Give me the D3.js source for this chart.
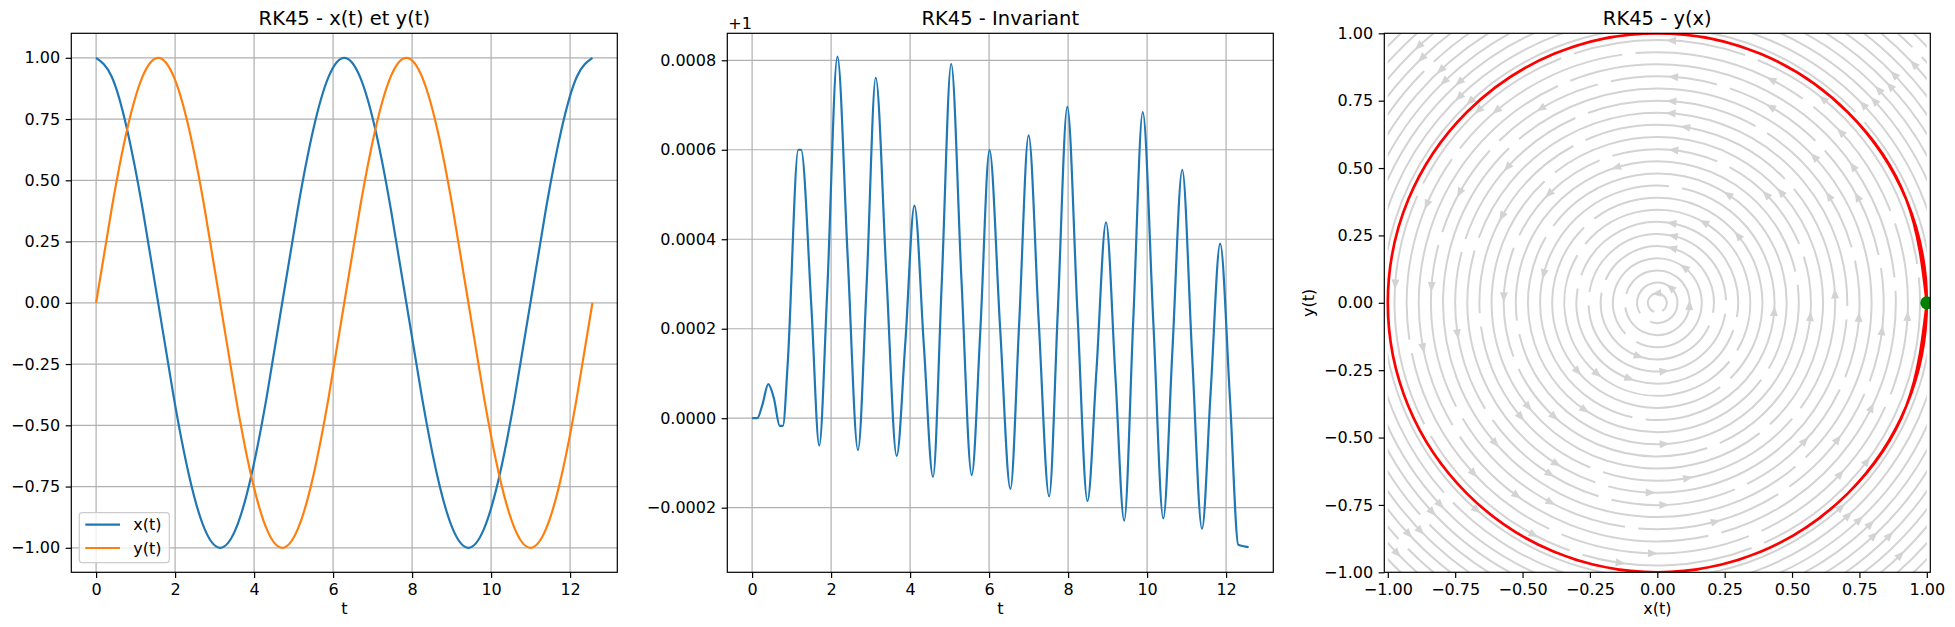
<!DOCTYPE html>
<html>
<head>
<meta charset="utf-8">
<script src="https://cdn.jsdelivr.net/npm/d3@7"></script>
<style>
  body { margin: 0; background: #fff; }
  svg text { font-family: "DejaVu Sans", sans-serif; }
</style>
</head>
<body>
<svg id="fig" width="1955" height="627"></svg>
<script>
// ---- data ----
const tSamples = [0, 0.393, 0.785, 1.178, 1.571, 1.963, 2.356, 2.749, 3.142, 3.534, 3.927, 4.320,
  4.712, 5.105, 5.498, 5.890, 6.283, 6.676, 7.069, 7.461, 7.854, 8.247, 8.639, 9.032, 9.425,
  9.817, 10.210, 10.603, 10.996, 11.388, 11.781, 12.174, 12.566];
const xSeries = [1.000, 0.924, 0.707, 0.383, 0.000, -0.383, -0.707, -0.924, -1.000, -0.924, -0.707,
  -0.383, 0.000, 0.383, 0.707, 0.924, 1.000, 0.924, 0.707, 0.383, 0.000, -0.383, -0.707, -0.924,
  -1.000, -0.924, -0.707, -0.383, 0.000, 0.383, 0.707, 0.924, 1.000];
const ySeries = [0.000, 0.383, 0.707, 0.924, 1.000, 0.924, 0.707, 0.383, 0.000, -0.383, -0.707,
  -0.924, -1.000, -0.924, -0.707, -0.383, 0.000, 0.383, 0.707, 0.924, 1.000, 0.924, 0.707, 0.383,
  0.000, -0.383, -0.707, -0.924, -1.000, -0.924, -0.707, -0.383, 0.000];

// invariant x^2 + y^2, shown as offset from 1
const invT = [0, 0.13, 0.26, 0.41, 0.55, 0.70, 0.78, 0.90, 1.17, 1.24, 1.50, 1.70, 1.90, 2.16,
  2.42, 2.68, 2.90, 3.13, 3.40, 3.66, 3.88, 4.11, 4.35, 4.58, 4.80, 5.04, 5.30, 5.56, 5.78,
  6.01, 6.28, 6.54, 6.76, 7.00, 7.26, 7.52, 7.74, 7.98, 8.24, 8.49, 8.72, 8.96, 9.20, 9.42,
  9.65, 9.89, 10.16, 10.41, 10.64, 10.89, 11.14, 11.39, 11.61, 11.85, 12.10, 12.31, 12.57];
const invDev = [0, 0, 0.000030, 0.000076, 0.000045, -0.000017, -0.000017, 0.000120, 0.000600,
  0.000600, 0.000250, -0.000061, 0.000280, 0.000808, 0.000360, -0.000071, 0.000300, 0.000761,
  0.000320, -0.000084, 0.000170, 0.000475, 0.000160, -0.000131, 0.000300, 0.000792, 0.000310,
  -0.000127, 0.000200, 0.000599, 0.000200, -0.000158, 0.000210, 0.000632, 0.000210, -0.000175,
  0.000240, 0.000696, 0.000230, -0.000185, 0.000110, 0.000438, 0.000090, -0.000229, 0.000220,
  0.000684, 0.000210, -0.000224, 0.000150, 0.000555, 0.000140, -0.000247, 0.000060, 0.000390,
  0.000040, -0.000283, -0.000288];

// streamlines of the field (concentric rings) and their arrow heads [radius, angle deg]
const streamRadii = [0.035, 0.075, 0.12, 0.165, 0.21, 0.255, 0.30, 0.345, 0.39, 0.435, 0.48, 0.525,
  0.57, 0.615, 0.66, 0.705, 0.75, 0.795, 0.84, 0.885, 0.93, 0.975, 1.02, 1.06, 1.10, 1.14, 1.18,
  1.22, 1.26, 1.30, 1.34, 1.38];
const streamArrows = [
  [0.035, 96], [0.075, 50], [0.12, 356], [0.165, 53],
  [0.21, 75], [0.21, 251], [0.255, 77], [0.255, 276], [0.30, 80], [0.30, 250],
  [0.345, 60], [0.345, 230], [0.39, 40], [0.39, 221], [0.435, 166], [0.435, 356],
  [0.48, 57], [0.48, 236], [0.525, 107], [0.525, 273],
  [0.57, 45], [0.57, 84], [0.57, 135], [0.57, 178], [0.57, 228], [0.57, 355],
  [0.615, 42], [0.615, 219],
  [0.66, 3], [0.66, 81], [0.66, 151], [0.66, 220], [0.66, 280],
  [0.705, 86], [0.705, 238], [0.705, 268],
  [0.75, 32], [0.75, 86], [0.75, 138], [0.75, 189], [0.75, 238], [0.75, 272], [0.75, 317], [0.75, 356],
  [0.795, 43], [0.795, 221],
  [0.84, 28], [0.84, 60], [0.84, 86], [0.84, 121], [0.84, 151], [0.84, 176], [0.84, 242], [0.84, 285],
  [0.84, 323], [0.84, 353],
  [0.885, 35], [0.885, 191], [0.885, 234], [0.885, 334],
  [0.93, 43], [0.93, 63], [0.93, 130], [0.93, 157], [0.93, 223], [0.93, 269], [0.93, 317], [0.93, 357],
  [0.975, 51], [0.975, 87], [0.975, 133], [0.975, 176], [0.975, 242], [0.975, 262], [0.975, 323],
  [1.02, 133], [1.02, 229], [1.02, 312],
  [1.06, 44], [1.06, 134], [1.06, 312],
  [1.10, 43], [1.10, 132], [1.10, 223], [1.10, 313],
  [1.14, 44], [1.14, 134], [1.14, 223], [1.14, 314],
  [1.18, 43], [1.18, 133], [1.18, 313],
  [1.22, 44], [1.22, 224], [1.22, 315],
  [1.26, 134], [1.26, 223],
  [1.30, 43], [1.30, 133], [1.30, 314],
  [1.34, 224]
];
const startPoint = [1, 0];

const tTicks = [0, 2, 4, 6, 8, 10, 12];
const unitTicks = [-1, -0.75, -0.5, -0.25, 0, 0.25, 0.5, 0.75, 1];
const invTicks = [-0.0002, 0, 0.0002, 0.0004, 0.0006, 0.0008];
const legendLabels = ["x(t)", "y(t)"];
const titles = ["RK45 - x(t) et y(t)", "RK45 - Invariant", "RK45 - y(x)"];

// ---- layout ----
const svg = d3.select("#fig");
const axTop = 33.3, axBottom = 572.3;
const panels = [[71.3, 617.3], [727.3, 1273.3], [1384.3, 1930.3]];
const blue = "#1f77b4", orange = "#ff7f0e";
const fs = 16; // tick font px

function frame(i, xs, ys, xticks, yticks, xfmt, yfmt, grid) {
  const g = svg.append("g");
  const [l, r] = panels[i];
  if (grid) {
    g.selectAll(".gx").data(xticks).join("line")
      .attr("x1", d => xs(d)).attr("x2", d => xs(d))
      .attr("y1", axTop).attr("y2", axBottom)
      .attr("stroke", "#b0b0b0").attr("stroke-width", 1.2);
    g.selectAll(".gy").data(yticks).join("line")
      .attr("x1", l).attr("x2", r)
      .attr("y1", d => ys(d)).attr("y2", d => ys(d))
      .attr("stroke", "#b0b0b0").attr("stroke-width", 1.2);
  }
  const ax = svg.append("g").attr("transform", `translate(0,${axBottom})`)
    .call(d3.axisBottom(xs).tickValues(xticks).tickFormat(xfmt).tickSize(5.6).tickPadding(5.6));
  const ay = svg.append("g").attr("transform", `translate(${l},0)`)
    .call(d3.axisLeft(ys).tickValues(yticks).tickFormat(yfmt).tickSize(5.6).tickPadding(5.6));
  [ax, ay].forEach(a => {
    a.select(".domain").remove();
    a.attr("font-family", null).attr("font-size", fs);
    a.selectAll("line").attr("stroke", "#000").attr("stroke-width", 1.2);
    a.selectAll("text").attr("fill", "#000");
  });
  svg.append("text")
    .attr("x", (l + r) / 2).attr("y", 25.3)
    .attr("text-anchor", "middle").attr("font-size", 19.5)
    .text(titles[i]);
  return g;
}

function spine(i) {
  const [l, r] = panels[i];
  svg.append("rect")
    .attr("x", l).attr("y", axTop).attr("width", r - l).attr("height", axBottom - axTop)
    .attr("fill", "none").attr("stroke", "#000").attr("stroke-width", 1.2);
}

const defs = svg.append("defs");
panels.forEach((p, i) => {
  defs.append("clipPath").attr("id", "clip" + i)
    .append("rect").attr("x", p[0]).attr("y", axTop).attr("width", p[1] - p[0]).attr("height", axBottom - axTop);
});

// ---- panel 1 : x(t), y(t) ----
const xs1 = d3.scaleLinear().domain([-0.628, 13.195]).range(panels[0]);
const ys1 = d3.scaleLinear().domain([-1.1, 1.1]).range([axBottom, axTop]);
const g1 = frame(0, xs1, ys1, tTicks, unitTicks, d3.format("d"), d3.format(".2f"), true);
const line1 = d3.line().curve(d3.curveNatural);
[[xSeries, blue], [ySeries, orange]].forEach(([vals, col]) => {
  g1.append("path")
    .attr("d", line1(tSamples.map((t, k) => [xs1(t), ys1(vals[k])])))
    .attr("fill", "none").attr("stroke", col).attr("stroke-width", 2.2)
    .attr("clip-path", "url(#clip0)");
});
svg.append("text").attr("x", (panels[0][0] + panels[0][1]) / 2).attr("y", 614)
  .attr("text-anchor", "middle").attr("font-size", fs).text("t");
spine(0);

// legend
const lg = svg.append("g");
lg.append("rect").attr("x", 79.3).attr("y", 512.7).attr("width", 90).attr("height", 50)
  .attr("rx", 3).attr("fill", "#fff").attr("fill-opacity", 0.8)
  .attr("stroke", "#cccccc").attr("stroke-width", 1.2);
legendLabels.forEach((lab, k) => {
  const y = 524.7 + k * 23.3;
  lg.append("line").attr("x1", 85.3).attr("x2", 120).attr("y1", y).attr("y2", y)
    .attr("stroke", k === 0 ? blue : orange).attr("stroke-width", 2.2);
  lg.append("text").attr("x", 133.3).attr("y", y).attr("dy", "0.35em")
    .attr("font-size", fs).text(lab);
});

// ---- panel 2 : invariant ----
const xs2 = d3.scaleLinear().domain([-0.628, 13.195]).range(panels[1]);
const ys2 = d3.scaleLinear().domain([-0.0003444, 0.0008603]).range([axBottom, axTop]);
const g2 = frame(1, xs2, ys2, tTicks, invTicks, d3.format("d"), d3.format(".4f"), true);
g2.append("path")
  .attr("d", d3.line().curve(d3.curveMonotoneX)(invT.map((t, k) => [xs2(t), ys2(invDev[k])])))
  .attr("fill", "none").attr("stroke", blue).attr("stroke-width", 2.2)
  .attr("stroke-linejoin", "round")
  .attr("clip-path", "url(#clip1)");
svg.append("text").attr("x", panels[1][0] + 1).attr("y", 29.3)
  .attr("font-size", fs).text("+1");
svg.append("text").attr("x", (panels[1][0] + panels[1][1]) / 2).attr("y", 614)
  .attr("text-anchor", "middle").attr("font-size", fs).text("t");
spine(1);

// ---- panel 3 : phase portrait ----
const xs3 = d3.scaleLinear().domain([-1.013, 1.013]).range(panels[2]);
const ys3 = d3.scaleLinear().domain([-1, 1]).range([axBottom, axTop]);
const g3 = frame(2, xs3, ys3, unitTicks, unitTicks, d3.format(".2f"), d3.format(".2f"), false);

defs.append("clipPath").attr("id", "clipBox")
  .append("rect").attr("x", xs3(-1)).attr("y", ys3(1))
  .attr("width", xs3(1) - xs3(-1)).attr("height", ys3(-1) - ys3(1));

const cx = xs3(0), cy = ys3(0), k = xs3(1) - xs3(0);
const grey = "#d3d3d3";
const streams = g3.append("g").attr("clip-path", "url(#clipBox)");
const gapLen = 0.05;
const rad = Math.PI / 180;

streamRadii.forEach(r => {
  const arr = streamArrows.filter(a => a[0] === r).map(a => a[1]).sort((a, b) => a - b);
  let gaps = [];
  if (arr.length === 1) gaps = [arr[0] + 180];
  else if (arr.length > 1) gaps = arr.map((a, j) => (a + (j < arr.length - 1 ? arr[j + 1] : arr[0] + 360)) / 2);
  const R = r * k;
  const half = Math.min(gapLen / r / 2 / rad, 25);
  const segs = [];
  if (gaps.length === 0) segs.push([0, 359.9]);
  else {
    gaps.sort((a, b) => a - b);
    gaps.forEach((g, j) => {
      const nxt = j < gaps.length - 1 ? gaps[j + 1] : gaps[0] + 360;
      segs.push([g + half, nxt - half]);
    });
  }
  segs.forEach(([a0, a1]) => {
    const p = d3.path();
    const s0 = -a0 * rad, s1 = -a1 * rad;
    p.moveTo(cx + R * Math.cos(s0), cy + R * Math.sin(s0));
    p.arc(cx, cy, R, s0, s1, true);
    streams.append("path").attr("d", p.toString())
      .attr("fill", "none").attr("stroke", grey).attr("stroke-width", 2);
  });
});

streams.selectAll(".arrow").data(streamArrows).join("path")
  .attr("d", ([r, a]) => {
    const th = a * rad;
    const px = xs3(r * Math.cos(th)), py = ys3(r * Math.sin(th));
    const dx = -Math.sin(th), dy = -Math.cos(th); // screen tangent, CCW flow
    const nx = -dy, ny = dx;
    const L = 5, w = 4;
    return `M${px + dx * L},${py + dy * L}L${px - dx * L + nx * w},${py - dy * L + ny * w}` +
      `L${px - dx * L - nx * w},${py - dy * L - ny * w}Z`;
  })
  .attr("fill", grey);

g3.append("path")
  .attr("d", d3.line().curve(d3.curveNatural)(xSeries.map((x, j) => [xs3(x), ys3(ySeries[j])])))
  .attr("fill", "none").attr("stroke", "red").attr("stroke-width", 2.7)
  .attr("clip-path", "url(#clip2)");

g3.append("circle")
  .attr("cx", xs3(startPoint[0])).attr("cy", ys3(startPoint[1])).attr("r", 6.5)
  .attr("fill", "green").attr("clip-path", "url(#clip2)");

svg.append("text").attr("x", (panels[2][0] + panels[2][1]) / 2).attr("y", 614)
  .attr("text-anchor", "middle").attr("font-size", fs).text("x(t)");
svg.append("text").attr("transform", `translate(1313.5,${(axTop + axBottom) / 2}) rotate(-90)`)
  .attr("text-anchor", "middle").attr("font-size", fs).text("y(t)");
spine(2);
</script>
</body>
</html>
